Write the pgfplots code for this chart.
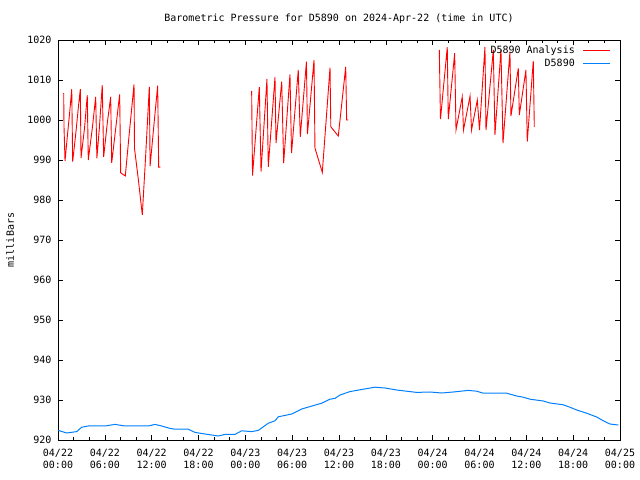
\documentclass[border=0pt]{standalone}
\usepackage{fontspec}
\setmainfont{DejaVu Sans Mono}
\usepackage{pgfplots}
\usepackage{pgfplotstable}
\pgfplotsset{compat=1.18}
\definecolor{gpred}{RGB}{255,0,0}
\definecolor{gpblue}{RGB}{0,128,255}

\pgfplotstableread{
h mb
0.73 1006.7
0.77 998.3
0.90 989.7
1.20 996
1.50 1002
1.76 1007.7
1.88 989.6
2.30 997
2.60 1003
2.86 1007.7
2.95 990.5
3.40 998
3.75 1006.2
3.88 990.0
4.40 998
4.83 1005.8
4.98 990.4
5.30 998
5.67 1008.7
5.85 990.8
6.30 999
6.75 1005.8
6.88 989.3
7.40 998
7.90 1006.4
8.03 986.8
8.62 986.0
9.10 996
9.74 1008.9
9.80 992.9
10.3 985
10.8 976.3
11.2 990
11.70 1008.3
11.80 988.5
12.3 999
12.77 1008.6
12.90 988.2
13.10 988.2
18 nan
24.81 1007.25
24.92 986.1
25.79 1008.2
26.01 987.1
26.77 1010.25
26.94 988.3
27.80 1010.7
27.93 994.2
28.66 1009.6
28.91 989.2
29.72 1011.4
29.92 991.7
30.78 1012.5
31.04 995.8
31.83 1014.6
31.96 996.5
32.80 1015.0
32.92 993.0
33.86 986.9
34.85 1013.1
34.95 998.3
35.91 996.0
36.86 1013.3
36.98 1000.0
37.19 1000.0
42 nan
48.85 1017.5
49.00 1000.2
49.87 1018.2
50.00 1000.2
50.82 1016.7
50.99 997.5
51.79 1005.8
51.95 997.5
52.79 1006.0
52.98 997.5
53.72 1005.0
54.00 997.5
54.70 1018.3
54.83 997.5
55.77 1017.5
55.98 996.3
56.75 1017.5
57.01 994.2
57.90 1017.1
58.03 1001
58.97 1012.9
59.10 1001.25
59.95 1012.5
60.12 994.6
60.89 1014.75
61.02 998.3
}\analysis

\pgfplotstableread{
h mb
0.04 922.4
1.11 921.75
2.40 922.1
3.04 923.2
3.88 923.5
6.02 923.5
7.30 923.9
8.58 923.5
11.57 923.5
12.43 923.9
13.28 923.5
14.35 922.9
14.99 922.7
16.69 922.7
17.55 921.9
18.83 921.5
20.54 921.0
21.39 921.4
22.67 921.4
23.53 922.3
24.81 922.1
25.66 922.4
26.94 924.2
27.80 924.8
28.22 925.8
29.94 926.5
31.22 927.75
33.78 929.2
34.84 930.2
35.49 930.4
36.13 931.25
37.41 932.1
39.11 932.7
40.61 933.2
41.89 933.0
43.39 932.5
45.95 931.9
47.66 932.0
49.15 931.75
50.64 932.0
52.56 932.4
53.64 932.2
54.48 931.7
57.48 931.7
58.76 931.0
59.61 930.7
60.47 930.2
62.17 929.75
63.03 929.25
64.73 928.8
65.58 928.2
66.45 927.5
67.73 926.7
69.01 925.75
69.86 924.8
70.71 924.0
71.78 923.75
}\obs

\begin{document}
\fontsize{10bp}{12bp}\selectfont
\begin{tikzpicture}
\useasboundingbox (-58bp,-40bp) rectangle (582bp,440bp);
\begin{axis}[
  at={(0,0)}, anchor=south west,
  scale only axis, width=562bp, height=400bp,
  xmin=0, xmax=72, ymin=920, ymax=1020,
  xtick={0,6,...,72},
  xticklabels={04/22\\00:00, 04/22\\06:00, 04/22\\12:00, 04/22\\18:00, 04/23\\00:00, 04/23\\06:00, 04/23\\12:00, 04/23\\18:00, 04/24\\00:00, 04/24\\06:00, 04/24\\12:00, 04/24\\18:00, 04/25\\00:00},
  xticklabel style={align=center, font=\fontsize{10bp}{12bp}\selectfont, yshift=-6bp},
  minor x tick num=2,
  ytick={920,930,...,1020},
  yticklabel style={/pgf/number format/1000 sep=, xshift=-3bp, font=\fontsize{10bp}{12bp}\selectfont},
  /pgf/number format/assume math mode=true,
  tick align=inside,
  major tick length=5bp, minor tick length=3bp,
  tick style={black, line width=0.6bp},
  axis line style={line width=0.8bp},
  ylabel={milliBars},
  ylabel style={at={(axis description cs:-0.0854,0.5)}, anchor=center, font=\fontsize{10bp}{12bp}\selectfont},
  title={Barometric Pressure for D5890 on 2024-Apr-22 (time in UTC)},
  title style={at={(axis description cs:0.5,1)}, anchor=base, yshift=13bp, font=\fontsize{10bp}{12bp}\selectfont},
  unbounded coords=jump,
  legend style={at={(1,1)}, anchor=north east, xshift=-8bp, yshift=-3bp, draw=none, fill=none, inner sep=1bp, row sep=0bp, font=\fontsize{10bp}{12bp}\selectfont},
  legend cell align=right,
  legend plot pos=right,
  legend image code/.code={\path (0bp,0bp); \draw[#1] (6bp,0bp) -- (33bp,0bp);},
]
\addplot[gpred, line width=0.9bp] table[x=h, y=mb] {\analysis};
\addlegendentry{D5890 Analysis}
\addplot[gpblue, line width=1bp] table[x=h, y=mb] {\obs};
\addlegendentry{D5890}
\end{axis}
\end{tikzpicture}
\end{document}
